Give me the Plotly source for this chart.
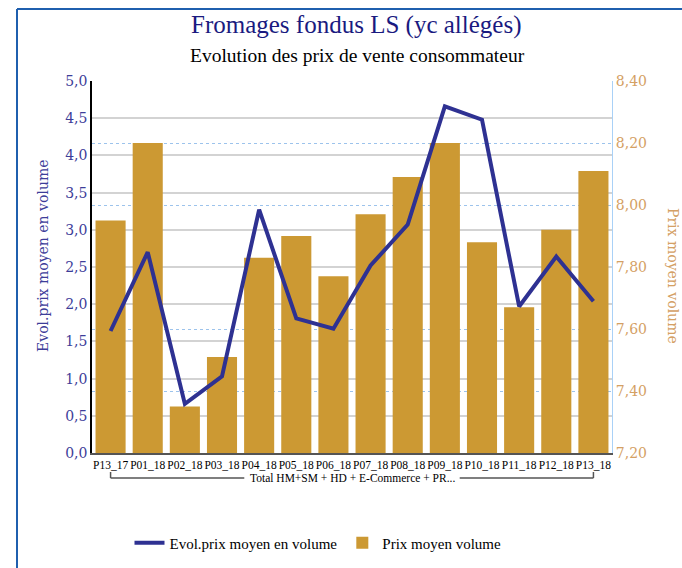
import plotly.graph_objects as go

# ---- data -------------------------------------------------------------
periods = ["P13_17", "P01_18", "P02_18", "P03_18", "P04_18", "P05_18", "P06_18",
           "P07_18", "P08_18", "P09_18", "P10_18", "P11_18", "P12_18", "P13_18"]
prix_moyen_volume = [7.95, 8.20, 7.35, 7.51, 7.83, 7.90, 7.77,
                     7.97, 8.09, 8.20, 7.88, 7.67, 7.92, 8.11]
evol_prix_moyen = [1.64, 2.70, 0.66, 1.03, 3.27, 1.81, 1.67,
                   2.52, 3.07, 4.66, 4.48, 1.97, 2.64, 2.04]
group_label = "Total HM+SM + HD + E-Commerce + PR..."

title_text = "Fromages fondus LS (yc allégés)"
subtitle_text = "Evolution des prix de vente consommateur"
left_axis_title = "Evol.prix moyen en volume"
right_axis_title = "Prix moyen volume"

# ---- styling -----------------------------------------------------------
W, H = 682, 568
L, R, T, B = 92, 70, 81, 115
PW, PH = W - L - R, H - T - B

def px_x(x):
    return (x - L) / PW

def px_y(y):
    return (H - B - y) / PH

GOLD = "#CC9933"
NAVY = "#2E3192"
LEFT_C = "#3D3D99"
RIGHT_C = "#D4A064"
SERIF = "Liberation Serif, Times New Roman, serif"
WIDE_SERIF = "DejaVu Serif, serif"

fig = go.Figure()

fig.add_trace(go.Scatter(
    x=periods, y=evol_prix_moyen, name=left_axis_title, yaxis="y2",
    mode="lines", line=dict(color=NAVY, width=4),
))
fig.add_trace(go.Bar(
    x=periods, y=prix_moyen_volume, name=right_axis_title, yaxis="y",
    marker=dict(color=GOLD, line=dict(width=0)),
))

fig.update_layout(
    width=W, height=H,
    margin=dict(l=L, r=R, t=T, b=B, autoexpand=False),
    paper_bgcolor="white", plot_bgcolor="white",
    separators=", ",
    bargap=0.19,
    showlegend=True,
    legend=dict(orientation="h", x=px_x(318), xanchor="center",
                y=px_y(543), yanchor="middle",
                font=dict(family=SERIF, size=15, color="black"),
                traceorder="normal"),
    xaxis=dict(type="category", showline=True, linecolor="#555555", linewidth=1.5,
               ticks="", showgrid=False,
               tickfont=dict(family=SERIF, size=11.5, color="black"),
               tickangle=0),
    yaxis=dict(side="right", range=[7.2, 8.4], dtick=0.2, tickformat=".2f",
               showgrid=True, gridcolor="#9CC3EC", gridwidth=1, griddash="dot",
               showline=True, linecolor="#A9D1F7", linewidth=1,
               zeroline=False, ticks="",
               tickfont=dict(family=WIDE_SERIF, size=14, color=RIGHT_C)),
    yaxis2=dict(overlaying="y", side="left", range=[0, 5], dtick=0.5, tickformat=".1f",
                showgrid=True, gridcolor="#D3D3D3", gridwidth=2,
                showline=True, linecolor="black", linewidth=1.5,
                zeroline=False, ticks="",
                tickfont=dict(family=WIDE_SERIF, size=14, color=LEFT_C)),
)

last = len(periods) - 1
mid = last / 2

annotations = [
    dict(text=title_text, x=px_x(356), y=px_y(25), xref="paper", yref="paper",
         xanchor="center", yanchor="middle",
         showarrow=False, font=dict(family=SERIF, size=25, color="#1A1A80")),
    dict(text=subtitle_text, x=px_x(357), y=px_y(55), xref="paper", yref="paper",
         xanchor="center", yanchor="middle",
         showarrow=False, font=dict(family=SERIF, size=19.5, color="black")),
    dict(text=left_axis_title, x=px_x(43), y=px_y(256), xref="paper", yref="paper",
         xanchor="center", yanchor="middle",
         showarrow=False, textangle=-90,
         font=dict(family=WIDE_SERIF, size=14, color=LEFT_C)),
    dict(text=right_axis_title, x=px_x(673), y=px_y(276), xref="paper", yref="paper",
         xanchor="center", yanchor="middle",
         showarrow=False, textangle=90,
         font=dict(family=WIDE_SERIF, size=14, color=RIGHT_C)),
    dict(text=group_label, x=mid, y=px_y(478), xref="x", yref="paper",
         xanchor="center", yanchor="middle",
         showarrow=False, borderpad=0,
         font=dict(family=SERIF, size=11.5, color="black")),
]
fig.update_layout(annotations=annotations)

# bracket under the period labels, with a gap left for the group label
bracket_y = px_y(478)
bracket_top = px_y(472)
gap_half = 2.9   # half of the label width, in category units
bracket = dict(color="#555555", width=1.5)
shapes = [
    dict(type="line", xref="x", yref="paper", x0=0, x1=mid - gap_half,
         y0=bracket_y, y1=bracket_y, line=bracket),
    dict(type="line", xref="x", yref="paper", x0=mid + gap_half, x1=last,
         y0=bracket_y, y1=bracket_y, line=bracket),
    dict(type="line", xref="x", yref="paper", x0=0, x1=0,
         y0=bracket_y, y1=bracket_top, line=bracket),
    dict(type="line", xref="x", yref="paper", x0=last, x1=last,
         y0=bracket_y, y1=bracket_top, line=bracket),
    # outer frame (top and left edges)
    dict(type="line", xref="paper", yref="paper", x0=px_x(17), x1=px_x(W + 5),
         y0=px_y(9), y1=px_y(9), line=dict(color="#1F5FAE", width=2)),
    dict(type="line", xref="paper", yref="paper", x0=px_x(17), x1=px_x(17),
         y0=px_y(9), y1=px_y(H + 5), line=dict(color="#1F5FAE", width=2)),
]
fig.update_layout(shapes=shapes)

fig.write_html("out.html")
